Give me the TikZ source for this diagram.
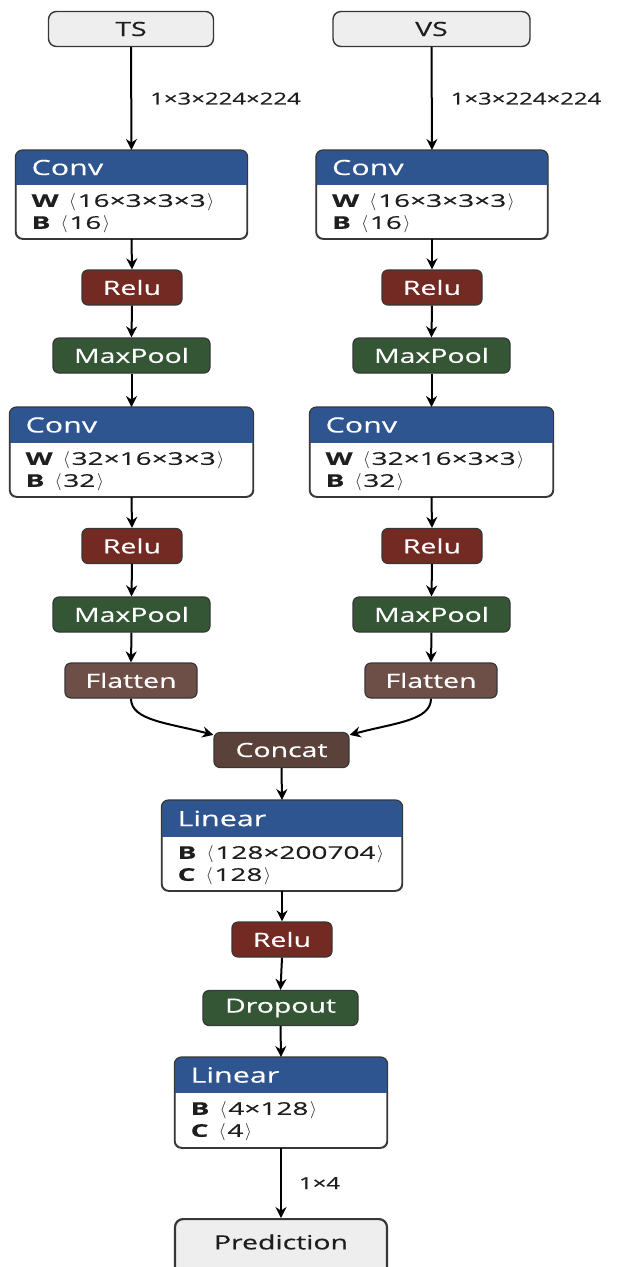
\documentclass[tikz,border=0pt]{standalone}
\usepackage{fontspec}
\setmainfont{Open Sans}[FakeStretch=1.45, FakeBold=0.35]
\newfontfamily\bodyfont{Open Sans}[FakeStretch=1.6, FakeBold=0.3]
\usetikzlibrary{arrows.meta}
\definecolor{convblue}{RGB}{47,85,144}
\definecolor{relured}{RGB}{115,42,34}
\definecolor{poolgreen}{RGB}{52,86,53}
\definecolor{flatbrown}{RGB}{110,79,71}
\definecolor{catbrown}{RGB}{90,66,59}
\definecolor{iofill}{RGB}{238,238,238}
\definecolor{nodeborder}{RGB}{55,55,55}
\definecolor{textdark}{RGB}{30,30,30}
\newcommand{\mklayer}[9]{%
  \node[layerbox, minimum width=#4pt, minimum height=#5pt, anchor=north] (#1) at (#2,#3) {};
  \begin{scope}
    \clip[rounded corners=7pt] (#1.south west) rectangle (#1.north east);
    \fill[convblue] (#1.north west) rectangle ([yshift=-#6pt]#1.north east);
  \end{scope}
  \draw[nodeborder, line width=1.2pt, rounded corners=7pt] (#1.south west) rectangle (#1.north east);
  \node[hdrtext] (#1-t) at ([xshift=16pt,yshift=-#6pt/2]#1.north west) {#7};
  \node[bodytext] (#1-a) at ([xshift=16pt,yshift=-#6pt-17.5pt]#1.north west) {#8};
  \node[bodytext] (#1-b) at ([xshift=16pt,yshift=-#6pt-39.5pt]#1.north west) {#9};
}
\newcommand{\wlab}[2]{\textbf{#1}\hspace{0.6em}$\langle$\hspace{0.1em}#2\hspace{0.1em}$\rangle$}
\begin{document}
\begin{tikzpicture}[x=1pt,y=-1pt,
  op/.style={draw=nodeborder, line width=1.2pt, rounded corners=6pt, text=white,
    minimum height=35pt, inner sep=0pt, font=\fontsize{19.6}{21}\selectfont},
  relu/.style={op, fill=relured, minimum width=100pt},
  pool/.style={op, fill=poolgreen, minimum width=157pt},
  flat/.style={op, fill=flatbrown, minimum width=132pt},
  cat/.style={op, fill=catbrown, minimum width=135pt},
  io/.style={draw=nodeborder, fill=iofill, line width=1.4pt, rounded corners=8pt,
    minimum height=35pt, text=textdark, inner sep=0pt, font=\fontsize{19.6}{21}\selectfont},
  layerbox/.style={draw=nodeborder, fill=white, line width=1.2pt, rounded corners=7pt, inner sep=0pt},
  hdrtext/.style={text=white, font=\fontsize{21}{23}\selectfont, anchor=west, inner sep=0pt},
  bodytext/.style={text=textdark, font=\bodyfont\fontsize{17.5}{19}\selectfont, anchor=west, inner sep=0pt},
  elabel/.style={text=textdark, font=\fontsize{16.5}{18}\selectfont, anchor=west, inner sep=0pt},
  arr/.style={-{Stealth[length=11pt,width=11pt]}, line width=2pt, black}
]
\clip (0,0) rectangle (624,1267);
\fill[white] (0,0) rectangle (624,1267);

% inputs
\node[io, minimum width=165pt] (ts) at (131,29) {TS};
\node[io, minimum width=197pt] (vs) at (431.5,29) {VS};

% left branch
\mklayer{convA}{131.5}{150}{231}{88}{35}{Conv}{\wlab{W}{16×3×3×3}}{\wlab{B}{16}}
\node[relu] (reluA) at (132,287.5) {Relu};
\node[pool] (poolA) at (131.5,355.5) {MaxPool};
\mklayer{convB}{131.5}{407}{243}{89}{36}{Conv}{\wlab{W}{32×16×3×3}}{\wlab{B}{32}}
\node[relu] (reluB) at (132,546) {Relu};
\node[pool] (poolB) at (131.5,614.5) {MaxPool};
\node[flat] (flatL) at (131,680.5) {Flatten};

% right branch
\mklayer{convC}{432}{150}{231}{88}{35}{Conv}{\wlab{W}{16×3×3×3}}{\wlab{B}{16}}
\node[relu] (reluC) at (432,287.5) {Relu};
\node[pool] (poolC) at (431.5,355.5) {MaxPool};
\mklayer{convD}{431.5}{407}{243}{89}{36}{Conv}{\wlab{W}{32×16×3×3}}{\wlab{B}{32}}
\node[relu] (reluD) at (432,546) {Relu};
\node[pool] (poolD) at (431.5,614.5) {MaxPool};
\node[flat] (flatR) at (431,680.5) {Flatten};

% merge
\node[cat] (cat) at (281.5,750) {Concat};
\mklayer{linA}{282}{800}{240}{90}{37}{Linear}{\wlab{B}{128×200704}}{\wlab{C}{128}}
\node[relu] (reluE) at (282,939.5) {Relu};
\node[pool, minimum width=155pt] (drop) at (280.5,1008) {Dropout};
\mklayer{linB}{281}{1057}{212}{90}{36}{Linear}{\wlab{B}{4×128}}{\wlab{C}{4}}
\node[io, minimum width=212pt, minimum height=70pt, anchor=north, line width=2.2pt] (pred) at (281,1218) {};
\node[text=textdark, font=\fontsize{19.6}{21}\selectfont, inner sep=0pt] (predt) at (281,1242) {Prediction};

% edges
\draw[arr] (ts.south) -- node[elabel, pos=0.5, xshift=18pt] (la) {1×3×224×224} (convA.north);
\draw[arr] (vs.south) -- node[elabel, pos=0.5, xshift=18pt] (lb) {1×3×224×224} (convC.north);
\draw[arr] (convA.south) -- (reluA.north);
\draw[arr] (reluA.south) -- (poolA.north);
\draw[arr] (poolA.south) -- (convB.north);
\draw[arr] (convB.south) -- (reluB.north);
\draw[arr] (reluB.south) -- (poolB.north);
\draw[arr] (poolB.south) -- (flatL.north);
\draw[arr] (convC.south) -- (reluC.north);
\draw[arr] (reluC.south) -- (poolC.north);
\draw[arr] (poolC.south) -- (convD.north);
\draw[arr] (convD.south) -- (reluD.north);
\draw[arr] (reluD.south) -- (poolD.north);
\draw[arr] (poolD.south) -- (flatR.north);
\coordinate (catL) at ([yshift=-3pt]cat.north west);
\coordinate (catR) at ([yshift=-3pt]cat.north east);
\draw[arr] (flatL.south) .. controls +(0,22) and +(-45,-12) .. (catL);
\draw[arr] (flatR.south) .. controls +(0,22) and +(45,-12) .. (catR);
\draw[arr] (cat.south) -- (linA.north);
\draw[arr] (linA.south) -- (reluE.north);
\draw[arr] (reluE.south) -- (drop.north);
\draw[arr] (drop.south) -- (linB.north);
\draw[arr] (linB.south) -- node[elabel, pos=0.5, xshift=17pt] (lc) {1×4} (pred.north);
\end{tikzpicture}
\end{document}
